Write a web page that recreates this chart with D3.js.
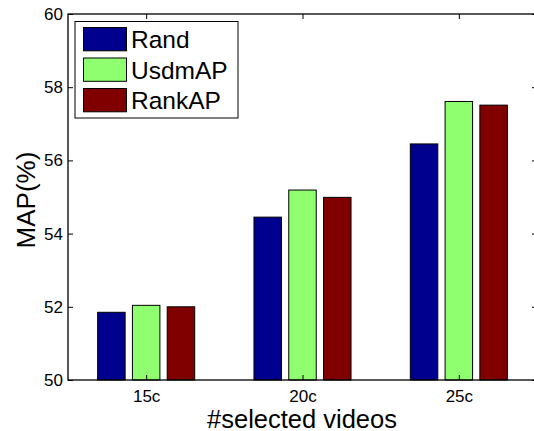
<!DOCTYPE html>
<html><head><meta charset="utf-8">
<script src="https://cdn.jsdelivr.net/npm/d3@7"></script>
<style>body{margin:0;background:#fff}svg{display:block;font-family:Arial,"Liberation Sans",sans-serif}</style>
</head><body><div id="c"></div>
<script>
const categories = ["15c","20c","25c"];
const seriesNames = ["Rand","UsdmAP","RankAP"];
const randValues = [51.85, 54.45, 56.45];
const usdmValues = [52.04, 55.19, 57.61];
const rankValues = [52.00, 54.99, 57.51];
const yTicks = [50,52,54,56,58,60];
const colors = ["#00008F","#8FFF70","#800000"];

const W=534,H=431;
const L=68,T=14,B=380,R=537;
const svg=d3.select("#c").append("svg").attr("width",W).attr("height",H);
const x=d3.scaleLinear().domain([0.5,3.5]).range([L,R]);
const y=d3.scaleLinear().domain([50,60]).range([B,T]);
const series=[randValues,usdmValues,rankValues];
const barStep=34.8/156.4, barW=27.5/156.4;

series.forEach((vals,si)=>{
  svg.append("g").selectAll("rect").data(vals).join("rect")
    .attr("x",(d,i)=>x(i+1+(si-1)*barStep-barW/2))
    .attr("width",x(1+barW)-x(1))
    .attr("y",d=>y(d))
    .attr("height",d=>y(50)-y(d))
    .attr("fill",colors[si]).attr("stroke","#000").attr("stroke-width",1);
});

// frame
svg.append("rect").attr("x",L).attr("y",T).attr("width",R-L).attr("height",B-T)
  .attr("fill","none").attr("stroke","#000").attr("stroke-width",1.3);

const yl=d3.axisLeft(y).tickValues(yTicks).tickSize(-5).tickPadding(5).tickFormat(d3.format("d"));
svg.append("g").attr("transform",`translate(${L},0)`).call(yl);
const yr=d3.axisRight(y).tickValues(yTicks).tickSize(-5).tickFormat("");
svg.append("g").attr("transform",`translate(${R},0)`).call(yr);
const xb=d3.axisBottom(x).tickValues([1,2,3]).tickSize(-5).tickPadding(10).tickFormat((d,i)=>categories[i]);
svg.append("g").attr("transform",`translate(0,${B})`).call(xb);
const xt=d3.axisTop(x).tickValues([1,2,3]).tickSize(-5).tickFormat("");
svg.append("g").attr("transform",`translate(0,${T})`).call(xt);
svg.selectAll(".domain").remove();
svg.selectAll(".tick line").attr("stroke","#000");
svg.selectAll(".tick text").attr("font-size",17).attr("fill","#000").attr("font-family","Arial,'Liberation Sans',sans-serif");

svg.append("text").attr("x",302).attr("y",427.5).attr("text-anchor","middle")
  .attr("font-size",25.5).text("#selected videos");
svg.append("text").attr("transform",`translate(35,200) rotate(-90)`).attr("text-anchor","middle")
  .attr("font-size",26).text("MAP(%)");

// legend
const lg=svg.append("g");
lg.append("rect").attr("x",75).attr("y",21.5).attr("width",163).attr("height",96.5)
  .attr("fill","#fff").attr("stroke","#000").attr("stroke-width",1);
seriesNames.forEach((n,i)=>{
  const yy=27.5+i*30.5;
  lg.append("rect").attr("x",83.5).attr("y",yy).attr("width",43).attr("height",23.3)
    .attr("fill",colors[i]).attr("stroke","#000").attr("stroke-width",1);
  lg.append("text").attr("x",131).attr("y",yy+20.5).attr("font-size",24.5).text(n);
});
</script></body></html>
